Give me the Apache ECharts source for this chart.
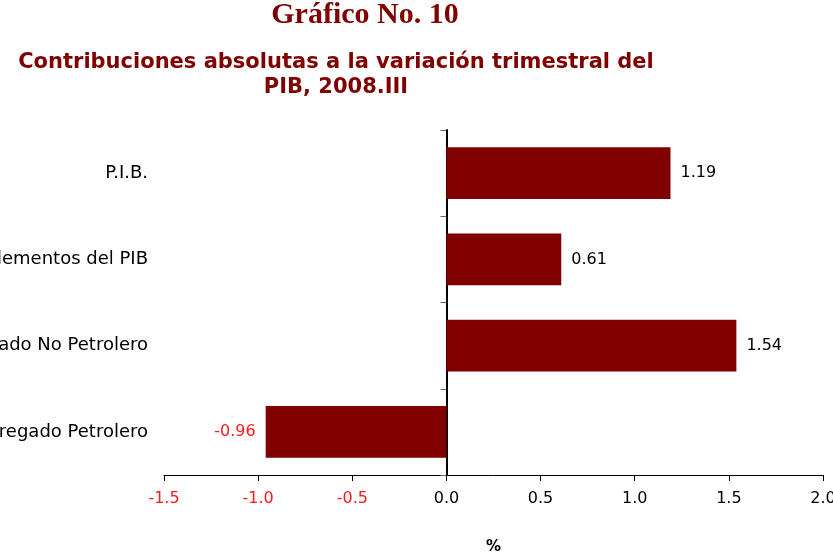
<!DOCTYPE html>
<html>
<head>
<meta charset="utf-8">
<script src="https://cdn.jsdelivr.net/npm/echarts@6/dist/echarts.min.js"></script>
<style>
  html, body { margin: 0; padding: 0; background: #fff; }
  #chart { width: 833px; height: 556px; }
</style>
</head>
<body>
<div id="chart"></div>
<script>
// datos del gráfico
const categories = ['Valor Agregado Petrolero', 'Valor Agregado No Petrolero', 'Otros elementos del PIB', 'P.I.B.']
const values = [-0.96, 1.54, 0.61, 1.19]

const dark = '#800000'
const red = '#ff1a1a'
const sans = '"DejaVu Sans", sans-serif'
const chart = echarts.init(document.getElementById('chart'))

const option = {
  animation: false,
  graphic: [
    {
      type: 'text', x: 365, y: 0,
      style: {
        text: 'Gráfico No. 10', font: 'bold 30px "Liberation Serif", serif',
        fill: dark, align: 'center', verticalAlign: 'top'
      }
    },
    {
      type: 'text', x: 336, y: 50,
      style: {
        text: 'Contribuciones absolutas a la variación trimestral del\nPIB, 2008.III',
        font: 'bold 21px "DejaVu Sans", sans-serif',
        fill: dark, align: 'center', verticalAlign: 'top', lineHeight: 25
      }
    }
  ],
  grid: { left: 164, right: 10, top: 130, bottom: 81, outerBoundsMode: 'none' },
  xAxis: {
    type: 'value',
    min: -1.5, max: 2.0, interval: 0.5,
    name: '%', nameLocation: 'middle', nameGap: 65,
    nameTextStyle: { fontFamily: sans, fontWeight: 'bold', fontSize: 15, color: '#000' },
    axisLine: { show: true, onZero: false, lineStyle: { color: '#000', width: 1 } },
    axisTick: { show: true, length: 6, lineStyle: { color: '#000' } },
    axisLabel: {
      margin: 16,
      fontFamily: sans, fontSize: 16,
      color: v => (v < 0 ? red : '#000'),
      formatter: v => v.toFixed(1)
    },
    splitLine: { show: false }
  },
  yAxis: [
    {
      // solo etiquetas, al borde izquierdo
      type: 'category', data: categories,
      axisLine: { show: false, onZero: false }, axisTick: { show: false },
      axisLabel: { margin: 16, fontFamily: sans, fontSize: 18, color: '#000' }
    },
    {
      // línea vertical en cero
      type: 'category', data: categories, position: 'left',
      axisLine: { show: true, onZero: true, lineStyle: { color: '#000', width: 2 } },
      axisTick: { show: true, length: 6, lineStyle: { color: '#666' } },
      axisLabel: { show: false }
    }
  ],
  series: [{
    type: 'bar',
    yAxisIndex: 0,
    barCategoryGap: '40%',
    data: values.map(v => ({
      value: v,
      label: {
        show: true,
        position: v < 0 ? 'left' : 'right',
        distance: 10,
        color: v < 0 ? red : '#000'
      }
    })),
    itemStyle: { color: dark },
    label: { fontFamily: sans, fontSize: 16, formatter: p => p.value.toFixed(2) }
  }]
}

chart.setOption(option)
</script>
</body>
</html>
